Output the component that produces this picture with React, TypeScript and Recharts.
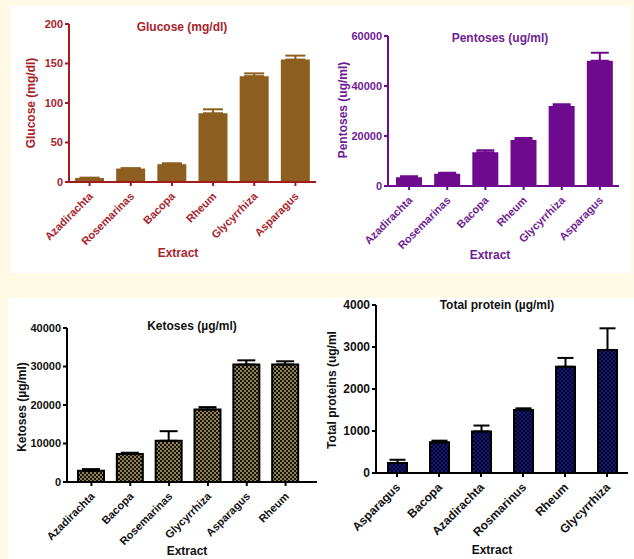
import React from 'react';
import { BarChart, Bar, XAxis, YAxis, ErrorBar } from 'recharts';

// glucose panel
const glucoseCats = ['Azadirachta', 'Rosemarinas', 'Bacopa', 'Rheum', 'Glycyrrhiza', 'Asparagus'];
const glucoseVals = [5, 17, 22.5, 87, 134, 155];
const glucoseErr = [0.5, 0.5, 1.2, 5, 3.5, 5];
const glucoseTicks = [0, 50, 100, 150, 200];

// pentoses panel
const pentoseCats = ['Azadirachta', 'Rosemarinas', 'Bacopa', 'Rheum', 'Glycyrrhiza', 'Asparagus'];
const pentoseVals = [3500, 4900, 13500, 18400, 32000, 50100];
const pentoseErr = [400, 400, 800, 800, 700, 3200];
const pentoseTicks = [0, 20000, 40000, 60000];

// ketoses panel
const ketoseCats = ['Azadirachta', 'Bacopa', 'Rosemarinas', 'Glycyrrhiza', 'Asparagus', 'Rheum'];
const ketoseVals = [2900, 7250, 10700, 18850, 30500, 30500];
const ketoseErr = [450, 350, 2500, 600, 1100, 850];
const ketoseTicks = [0, 10000, 20000, 30000, 40000];

// protein panel
const proteinCats = ['Asparagus', 'Bacopa', 'Azadirachta', 'Rosmarinus', 'Rheum', 'Glycyrrhiza'];
const proteinVals = [240, 730, 990, 1500, 2530, 2930];
const proteinErr = [75, 40, 140, 40, 210, 515];
const proteinTicks = [0, 1000, 2000, 3000, 4000];

const toRows = (cats: string[], vals: number[], errs: number[]) =>
  cats.map((c, i) => ({ name: c, value: vals[i], err: [0, errs[i]] }));

const FONT = '"Liberation Sans", Arial, sans-serif';

const XTick = (props: any) => {
  const { x, y, payload, color, size } = props;
  return (
    <g transform={`translate(${x + 4},${y + 9}) rotate(-45)`}>
      <text x={0} y={0} textAnchor="end" fill={color} fontSize={size} fontWeight="bold" fontFamily={FONT}>
        {payload.value}
      </text>
    </g>
  );
};

const Txt = ({ x, y, text, color, size = 12, rotate = false }: any) => (
  <div
    style={{
      position: 'absolute',
      left: x,
      top: y,
      transform: `translate(-50%, -50%)${rotate ? ' rotate(-90deg)' : ''}`,
      whiteSpace: 'nowrap',
      color,
      fontSize: size,
      fontWeight: 'bold',
      fontFamily: FONT,
      lineHeight: 1,
    }}
  >
    {text}
  </div>
);

const Panel = ({ left, top, width, height, data, ticks, yWidth, margin, xHeight, padding, barSize,
  fill, stroke, axisColor, textColor, errColor, capW, fontSize, defs }: any) => (
  <div style={{ position: 'absolute', left, top }}>
    <BarChart width={width} height={height} data={data} margin={margin}>
      {defs}
      <XAxis
        dataKey="name"
        height={xHeight}
        padding={padding}
        interval={0}
        axisLine={{ stroke: axisColor, strokeWidth: 2 }}
        tickLine={{ stroke: axisColor, strokeWidth: 2 }}
        tickSize={4}
        tick={<XTick color={textColor} size={fontSize} />}
      />
      <YAxis
        width={yWidth}
        domain={[ticks[0], ticks[ticks.length - 1]]}
        ticks={ticks}
        allowDataOverflow
        axisLine={{ stroke: axisColor, strokeWidth: 2 }}
        tickLine={{ stroke: axisColor, strokeWidth: 2 }}
        tickSize={4}
        tickMargin={2}
        tick={{ fill: textColor, fontSize, fontWeight: 'bold', fontFamily: FONT }}
      />
      <Bar dataKey="value" fill={fill} stroke={stroke} strokeWidth={stroke ? 2 : 0} barSize={barSize} isAnimationActive={false}>
        <ErrorBar dataKey="err" width={capW} stroke={errColor} strokeWidth={2} direction="y" />
      </Bar>
    </BarChart>
  </div>
);

export default function App() {
  const red = '#A8232B';
  const brown = '#8C5E20';
  const purple = '#6E0A8E';

  return (
    <div style={{ position: 'absolute', left: 0, top: 0, width: 634, height: 559, background: '#FEFAE5', overflow: 'hidden' }}>
      <div style={{ position: 'absolute', left: 11, top: 6, width: 620, height: 267, background: '#fff' }} />
      <div style={{ position: 'absolute', left: 8, top: 298, width: 626, height: 261, background: '#fff' }} />

      <Panel
        left={0} top={0} width={320} height={275}
        data={toRows(glucoseCats, glucoseVals, glucoseErr)} ticks={glucoseTicks}
        yWidth={69} margin={{ top: 24, right: 4, left: 0, bottom: 0 }} xHeight={93}
        padding={{ left: 0, right: 0 }} barSize={29}
        fill={brown} axisColor="#A31B1B" textColor={red} errColor={brown} capW={10} fontSize={11}
      />
      <Txt x={182} y={27} text="Glucose (mg/dl)" color={red} />
      <Txt x={31} y={103} text="Glucose (mg/dl)" color={red} rotate />
      <Txt x={178} y={253} text="Extract" color={red} />

      <Panel
        left={317} top={0} width={317} height={275}
        data={toRows(pentoseCats, pentoseVals, pentoseErr)} ticks={pentoseTicks}
        yWidth={71} margin={{ top: 36, right: 15, left: 0, bottom: 0 }} xHeight={89}
        padding={{ left: 2, right: 0 }} barSize={26}
        fill={purple} axisColor={purple} textColor="#701C94" errColor={purple} capW={9} fontSize={11}
      />
      <Txt x={500} y={38} text="Pentoses (ug/ml)" color="#701C94" />
      <Txt x={343} y={110} text="Pentoses (ug/ml)" color="#701C94" rotate />
      <Txt x={490} y={255} text="Extract" color="#701C94" />

      <Panel
        left={0} top={280} width={320} height={279}
        data={toRows(ketoseCats, ketoseVals, ketoseErr)} ticks={ketoseTicks}
        yWidth={67} margin={{ top: 48, right: 3, left: 0, bottom: 0 }} xHeight={77}
        padding={{ left: 5, right: 12 }} barSize={26}
        fill="url(#ketPat)" stroke="#000" axisColor="#000" textColor="#111" errColor="#000" capW={9} fontSize={11}
        defs={
          <defs>
            <pattern id="ketPat" width={4} height={4} patternUnits="userSpaceOnUse">
              <rect width={4} height={4} fill="#8F8356" />
              <rect x={0} y={0} width={2} height={2} fill="#15130A" />
              <rect x={2} y={2} width={2} height={2} fill="#15130A" />
            </pattern>
          </defs>
        }
      />
      <Txt x={192} y={326} text="Ketoses (µg/ml)" color="#111" />
      <Txt x={22} y={407} text="Ketoses (µg/ml)" color="#111" rotate />
      <Txt x={187} y={551} text="Extract" color="#111" />

      <Panel
        left={317} top={280} width={317} height={279}
        data={toRows(proteinCats, proteinVals, proteinErr)} ticks={proteinTicks}
        yWidth={59} margin={{ top: 25, right: 6, left: 0, bottom: 0 }} xHeight={86}
        padding={{ left: 0, right: 0 }} barSize={19}
        fill="url(#protPat)" stroke="#000" axisColor="#000" textColor="#111" errColor="#000" capW={8} fontSize={12}
        defs={
          <defs>
            <pattern id="protPat" width={4} height={4} patternUnits="userSpaceOnUse">
              <rect width={4} height={4} fill="#161680" />
              <rect x={0} y={0} width={2} height={2} fill="#03031C" />
              <rect x={2} y={2} width={2} height={2} fill="#03031C" />
            </pattern>
          </defs>
        }
      />
      <Txt x={497} y={305} text="Total protein (µg/ml)" color="#111" />
      <Txt x={332} y={390} text="Total proteins (ug/ml" color="#111" rotate />
      <Txt x={492} y={550} text="Extract" color="#111" />
    </div>
  );
}
